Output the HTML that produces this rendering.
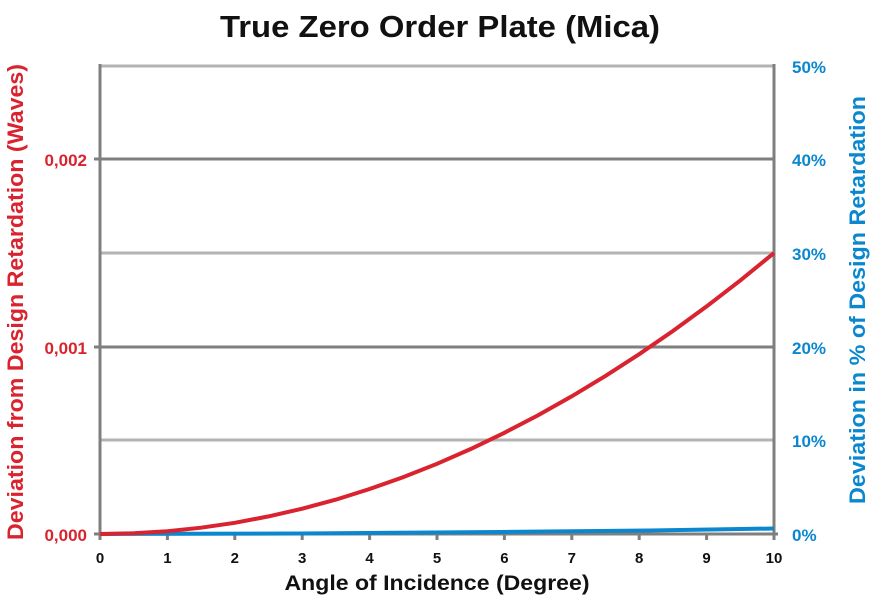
<!DOCTYPE html>
<html><head><meta charset="utf-8"><style>body{margin:0;background:#fff}svg{display:block}</style></head><body>
<svg width="881" height="606" xmlns="http://www.w3.org/2000/svg" font-family="Liberation Sans, sans-serif" font-weight="bold">
<text x="440" y="37" text-anchor="middle" font-size="31" fill="#111" textLength="440" lengthAdjust="spacingAndGlyphs">True Zero Order Plate (Mica)</text>
<g stroke-width="3">
<line x1="100" y1="66" x2="774" y2="66" stroke="#b3b3b3"/>
<line x1="94" y1="159" x2="774" y2="159" stroke="#7f7f7f"/>
<line x1="100" y1="253" x2="774" y2="253" stroke="#b3b3b3"/>
<line x1="94" y1="347" x2="774" y2="347" stroke="#7f7f7f"/>
<line x1="100" y1="440" x2="774" y2="440" stroke="#b3b3b3"/>
<line x1="94" y1="534" x2="778" y2="534" stroke="#7f7f7f"/>
<line x1="100" y1="64" x2="100" y2="540" stroke="#7f7f7f"/>
<line x1="774" y1="64" x2="774" y2="540" stroke="#7f7f7f"/>
<g stroke="#7f7f7f"><line x1="167.4" y1="534" x2="167.4" y2="540"/><line x1="234.8" y1="534" x2="234.8" y2="540"/><line x1="302.2" y1="534" x2="302.2" y2="540"/><line x1="369.6" y1="534" x2="369.6" y2="540"/><line x1="437" y1="534" x2="437" y2="540"/><line x1="504.4" y1="534" x2="504.4" y2="540"/><line x1="571.8" y1="534" x2="571.8" y2="540"/><line x1="639.2" y1="534" x2="639.2" y2="540"/><line x1="706.6" y1="534" x2="706.6" y2="540"/></g>
</g>
<polyline fill="none" stroke="#0a87cf" stroke-width="4" points="100,534 300,533.5 500,532 650,530.5 774,528.5"/>
<polyline fill="none" stroke="#d9232e" stroke-width="4" points="100,534 133.7,533.3 167.4,531.2 201.1,527.7 234.8,522.8 268.5,516.4 302.2,508.7 336,499.6 369.6,489 403.3,477.1 437,463.8 470.7,449 504.4,432.8 538.1,415.3 571.8,396.3 605.5,375.9 639.2,354.2 672.9,331 706.6,306.4 740.3,280.4 774,253"/>
<g font-size="17" fill="#d9232e" text-anchor="end">
<text x="87" y="166">0,002</text><text x="87" y="354">0,001</text><text x="87" y="541">0,000</text>
</g>
<g font-size="17" fill="#0a87cf">
<text x="792" y="73">50%</text><text x="792" y="166">40%</text><text x="792" y="260">30%</text><text x="792" y="354">20%</text><text x="792" y="447">10%</text><text x="792" y="541">0%</text>
</g>
<g font-size="15" fill="#111" text-anchor="middle">
<text x="100" y="563">0</text><text x="167.4" y="563">1</text><text x="234.8" y="563">2</text><text x="302.2" y="563">3</text><text x="369.6" y="563">4</text><text x="437" y="563">5</text><text x="504.4" y="563">6</text><text x="571.8" y="563">7</text><text x="639.2" y="563">8</text><text x="706.6" y="563">9</text><text x="774" y="563">10</text>
</g>
<text x="437" y="590" text-anchor="middle" font-size="21" fill="#111" textLength="305" lengthAdjust="spacingAndGlyphs">Angle of Incidence (Degree)</text>
<text transform="translate(23,302) rotate(-90)" text-anchor="middle" font-size="22" fill="#d9232e" textLength="476" lengthAdjust="spacingAndGlyphs">Deviation from Design Retardation (Waves)</text>
<text transform="translate(865,300) rotate(-90)" text-anchor="middle" font-size="22" fill="#0a87cf" textLength="408" lengthAdjust="spacingAndGlyphs">Deviation in % of Design Retardation</text>
</svg>
</body></html>
